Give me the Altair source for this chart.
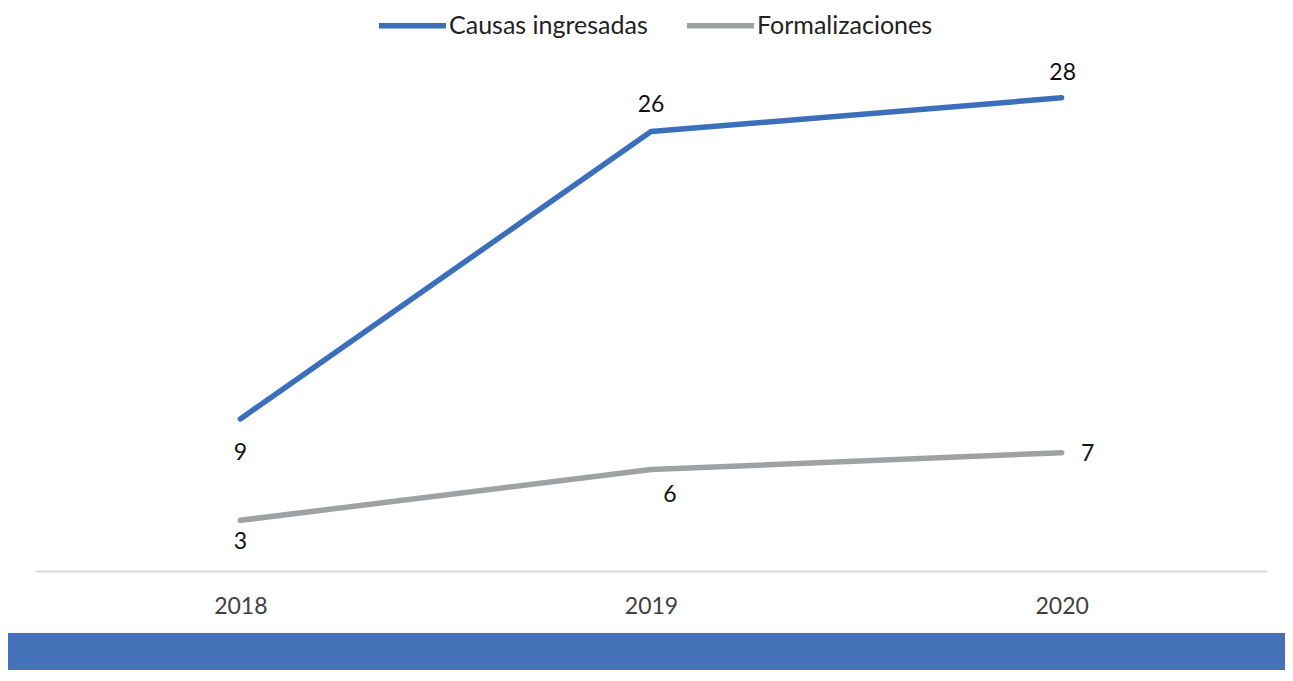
import altair as alt
import pandas as pd

years = ["2018", "2019", "2020"]
series_names = ["Causas ingresadas", "Formalizaciones"]
causas = [9, 26, 28]
formalizaciones = [3, 6, 7]

BLUE = "#3B6FBB"
GRAY = "#A0A1A2"
BAND = "#4571B8"
FONT = "Lato"

rows = []
for name, vals in zip(series_names, [causas, formalizaciones]):
    for y, v in zip(years, vals):
        rows.append({"year": y, "serie": name, "valor": v})
df = pd.DataFrame(rows)

W, H = 1232, 507

x_enc = alt.X("year:N", sort=years, scale=alt.Scale(type="point", padding=0.5),
              axis=alt.Axis(title=None, labelAngle=0, ticks=False, grid=False,
                            domainColor="#D9D9D9", domainWidth=2,
                            labelFontSize=23, labelFont=FONT, labelColor="#404040",
                            labelPadding=24))
y_enc = alt.Y("valor:Q", scale=alt.Scale(domain=[0, 30], nice=False, zero=True), axis=None)

base = alt.Chart(df)

lines = base.mark_line(strokeWidth=5.5, strokeCap="round", strokeJoin="round").encode(
    x=x_enc,
    y=y_enc,
    color=alt.Color("serie:N", scale=alt.Scale(domain=series_names, range=[BLUE, GRAY]),
                    legend=alt.Legend(title=None, orient="none", direction="horizontal",
                                      legendX=341, legendY=-75,
                                      symbolType="stroke", symbolSize=4500,
                                      symbolStrokeWidth=5.5, labelLimit=500,
                                      labelFont=FONT, labelFontSize=25, labelColor="#222222",
                                      labelOffset=0, columnPadding=27)),
)


def label(expr, dx, dy):
    return base.transform_filter(expr).mark_text(
        font=FONT, fontSize=23, color="#111111", dx=dx, dy=dy, baseline="middle", align="center"
    ).encode(x=alt.X("year:N", sort=years), y="valor:Q", text="valor:Q")


labels = [
    label("datum.serie == 'Causas ingresadas' && datum.year == '2018'", 0, 34),
    label("datum.serie == 'Causas ingresadas' && datum.year == '2019'", 0, -27),
    label("datum.serie == 'Causas ingresadas' && datum.year == '2020'", 1, -25),
    label("datum.serie == 'Formalizaciones' && datum.year == '2018'", 0, 22),
    label("datum.serie == 'Formalizaciones' && datum.year == '2019'", 19, 25),
    label("datum.serie == 'Formalizaciones' && datum.year == '2020'", 26, 1),
]

band = alt.Chart(pd.DataFrame({"k": [0]})).mark_rect(color=BAND).encode(
    x=alt.value(-27), x2=alt.value(1250), y=alt.value(569), y2=alt.value(606)
)

chart = alt.layer(band, lines, *labels).properties(
    width=W, height=H,
    autosize=alt.AutoSizeParams(type="none"),
    padding={"left": 27, "top": 56, "right": 18, "bottom": 99},
).configure_view(stroke=None)

chart.save("out.html", embed_options={"renderer": "svg", "actions": False})
